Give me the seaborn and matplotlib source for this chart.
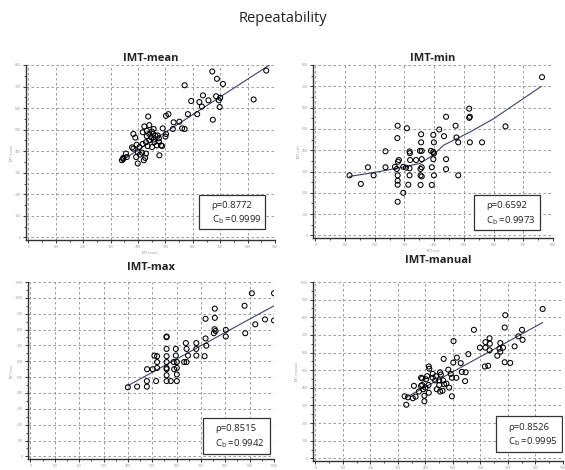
import numpy as np
import pandas as pd
import matplotlib
matplotlib.use("Agg")
import matplotlib.pyplot as plt
import seaborn as sns
from matplotlib.ticker import MultipleLocator, AutoMinorLocator
from matplotlib.patches import Rectangle

# ---------------- data ----------------
suptitle = "Repeatability"
titles = ["IMT-mean", "IMT-min", "IMT-max", "IMT-manual"]

mean_x = [671, 688, 710, 868, 822, 570, 637, 594, 624, 657, 685, 695, 700, 698, 673, 633, 616, 582,
          551, 530, 511, 502, 561, 570, 527, 490, 502, 472, 441, 437, 423, 417, 432, 448, 457, 441,
          429, 460, 476, 484, 468, 451, 435, 417, 405, 383, 390, 395, 399, 407, 393, 383, 378, 356,
          346, 341, 346, 359, 399, 421, 426, 429, 415, 478, 488, 500, 476, 463, 454, 441, 432, 457, 451]
mean_y = [770, 736, 712, 774, 640, 706, 659, 633, 628, 636, 655, 636, 648, 605, 546, 607, 572, 572,
          537, 534, 572, 564, 506, 503, 503, 506, 480, 473, 521, 561, 515, 488, 470, 465, 454, 450,
          442, 442, 445, 427, 427, 419, 424, 434, 419, 480, 463, 430, 396, 384, 373, 412, 418, 389,
          369, 358, 364, 373, 343, 358, 369, 389, 393, 381, 424, 468, 460, 473, 480, 480, 495, 503, 491]
mean_fit_x = [340, 880]
mean_fit_y = [356, 800]

min_x = [763, 518, 518, 520, 640, 440, 472, 417, 433, 475, 481, 520, 561, 277, 308, 276, 356, 356,
         397, 399, 389, 397, 399, 358, 352, 317, 318, 236, 358, 339, 319, 281, 278, 397, 440, 440,
         392, 358, 354, 317, 305, 296, 268, 274, 236, 177, 196, 115, 153, 277, 277, 277, 317, 313,
         354, 354, 358, 399, 392, 481, 296, 277]
min_y = [743, 595, 552, 557, 512, 557, 515, 497, 466, 460, 437, 437, 437, 515, 503, 457, 475, 437,
         472, 437, 397, 392, 385, 397, 397, 394, 386, 395, 358, 354, 354, 354, 346, 358, 358, 311,
         320, 320, 312, 315, 318, 322, 322, 312, 320, 320, 282, 282, 242, 282, 257, 238, 282, 238,
         282, 237, 277, 282, 237, 282, 200, 158]
min_fit_x = [115, 196, 274, 352, 397, 431, 520, 598, 688, 761]
min_fit_y = [277, 295, 315, 338, 377, 423, 485, 546, 631, 700]

max_x = [400, 438, 478, 478, 479, 516, 520, 520, 509, 520, 559, 559, 559, 559, 559, 559, 559, 559,
         576, 559, 590, 597, 597, 588, 601, 601, 601, 601, 638, 641, 641, 647, 631, 681, 681, 681,
         719, 719, 722, 715, 757, 757, 756, 760, 753, 802, 802, 879, 882, 909, 923, 963, 1000, 1000, 502]
max_y = [436, 440, 440, 475, 550, 475, 558, 595, 636, 632, 752, 756, 678, 632, 595, 558, 512, 475,
         475, 550, 550, 678, 636, 595, 558, 517, 475, 595, 715, 678, 595, 636, 595, 715, 678, 636,
         868, 744, 698, 632, 932, 874, 802, 791, 777, 798, 756, 950, 777, 1029, 833, 864, 1029, 857, 550]
max_fit_x = [400, 1000]
max_fit_y = [446, 950]

manual_x = [826, 690, 688, 751, 576, 738, 753, 633, 618, 634, 598, 618, 633, 672, 682, 669, 672, 724,
            661, 688, 708, 616, 628, 502, 556, 514, 501, 528, 466, 412, 414, 453, 456, 483, 492, 496,
            512, 546, 532, 544, 426, 438, 426, 435, 450, 464, 468, 450, 441, 453, 462, 476, 406, 402,
            388, 388, 400, 392, 384, 411, 412, 396, 396, 384, 358, 376, 364, 324, 336, 354, 330, 496, 486]
manual_y = [847, 812, 742, 729, 729, 692, 672, 681, 659, 650, 628, 628, 613, 654, 628, 622, 604, 635,
            582, 545, 541, 521, 525, 665, 591, 571, 543, 540, 564, 521, 508, 488, 475, 503, 479, 457,
            457, 488, 490, 438, 479, 466, 457, 442, 442, 442, 420, 416, 392, 379, 383, 424, 466, 448,
            453, 416, 401, 392, 457, 416, 372, 355, 324, 411, 411, 379, 350, 352, 346, 341, 304, 352, 401]
manual_fit_x = [330, 826]
manual_fit_y = [346, 770]

rho_vals = ["0.8772", "0.6592", "0.8515", "0.8526"]
cb_vals = ["0.9999", "0.9973", "0.9942", "0.9995"]

xmax_vals = [900, 800, 1000, 900]
ymax_vals = [800, 800, 1100, 1000]

# ---------------- layout ----------------
W, H = 565, 470
# axes in pixels: left, right, top, bottom
ax_px = [(26, 275, 65, 240), (313, 553, 65, 238), (28, 274, 282, 459), (313, 563, 282, 461)]
# stats box in axes fraction: x, y, w, h
box_pos = [(0.695, 0.063, 0.265, 0.194), (0.671, 0.046, 0.275, 0.202),
           (0.711, 0.028, 0.272, 0.203), (0.732, 0.050, 0.264, 0.199)]
title_pads = [3, 3, 9, 14]
show_xlabel = [True, True, False, False]

sns.set_theme(style="white")
plt.rcParams['font.family'] = ['Open Sans', 'DejaVu Sans']
plt.rcParams['mathtext.fontset'] = 'custom'
plt.rcParams['mathtext.rm'] = 'Open Sans'
plt.rcParams['mathtext.it'] = 'Open Sans'

fig = plt.figure(figsize=(W / 100, H / 100), dpi=100)
fig.patch.set_facecolor("white")
fig.text(0.5, 1 - 18 / H, suptitle, ha="center", va="center", fontsize=10.5, color="#222222")

datasets = [
    (mean_x, mean_y, mean_fit_x, mean_fit_y),
    (min_x, min_y, min_fit_x, min_fit_y),
    (max_x, max_y, max_fit_x, max_fit_y),
    (manual_x, manual_y, manual_fit_x, manual_fit_y),
]

for i, (xs, ys, fx, fy) in enumerate(datasets):
    l, r, t, b = ax_px[i]
    ax = fig.add_axes([l / W, (H - b) / H, (r - l) / W, (b - t) / H])
    ax.set_facecolor("white")
    df = pd.DataFrame({"x": xs, "y": ys})
    sns.scatterplot(data=df, x="x", y="y", ax=ax, marker="o", s=13, linewidth=0.75, zorder=3)
    coll = ax.collections[-1]
    coll.set_facecolor("none")
    coll.set_edgecolor("black")
    fdf = pd.DataFrame({"x": fx, "y": fy})
    sns.lineplot(data=fdf, x="x", y="y", ax=ax, color="#3c4270", lw=0.8, sort=False, zorder=2)

    xm, ym = xmax_vals[i], ymax_vals[i]
    ax.set_xlim(-xm * 0.01, xm)
    ax.set_ylim(-ym * 0.015, ym)
    ax.xaxis.set_major_locator(MultipleLocator(100))
    ax.yaxis.set_major_locator(MultipleLocator(100))
    ax.xaxis.set_minor_locator(AutoMinorLocator(2))
    ax.yaxis.set_minor_locator(AutoMinorLocator(2))
    ax.grid(True, which="major", color="#8a8a8a", lw=0.6, ls=(0, (3, 3)))
    ax.set_axisbelow(True)
    for s in ["top", "right"]:
        ax.spines[s].set_visible(False)
    for s in ["left", "bottom"]:
        ax.spines[s].set_color("#333333")
        ax.spines[s].set_linewidth(1.0)
    ax.tick_params(which="major", direction="out", length=2.5, width=0.7, color="#333333",
                   labelsize=2.6, labelcolor="#9a9a9a", pad=1.2, left=True, bottom=True)
    ax.tick_params(which="minor", direction="out", length=1.4, width=0.6, color="#333333",
                   left=True, bottom=True)
    ax.set_xlabel(titles[i] if show_xlabel[i] else "", fontsize=2.6, color="#9a9a9a", labelpad=1)
    ax.set_ylabel(titles[i], fontsize=2.6, color="#9a9a9a", labelpad=1)
    ax.set_title(titles[i], fontsize=8, fontweight="bold", color="#222222", pad=title_pads[i])

    bx, by, bw, bh = box_pos[i]
    ax.add_patch(Rectangle((bx, by), bw, bh, transform=ax.transAxes, facecolor="white",
                           edgecolor="#333333", lw=0.9, zorder=5))
    ax.text(bx + 0.05, by + bh * 0.70, "ρ=" + rho_vals[i], transform=ax.transAxes,
            ha="left", va="center", fontsize=6.8, color="#222222", zorder=6)
    ax.text(bx + 0.05, by + bh * 0.28, r"$\mathregular{C_b}$ =" + cb_vals[i], transform=ax.transAxes,
            ha="left", va="center", fontsize=6.8, color="#222222", zorder=6)

fig.savefig("out.png", dpi=100, facecolor="white")
